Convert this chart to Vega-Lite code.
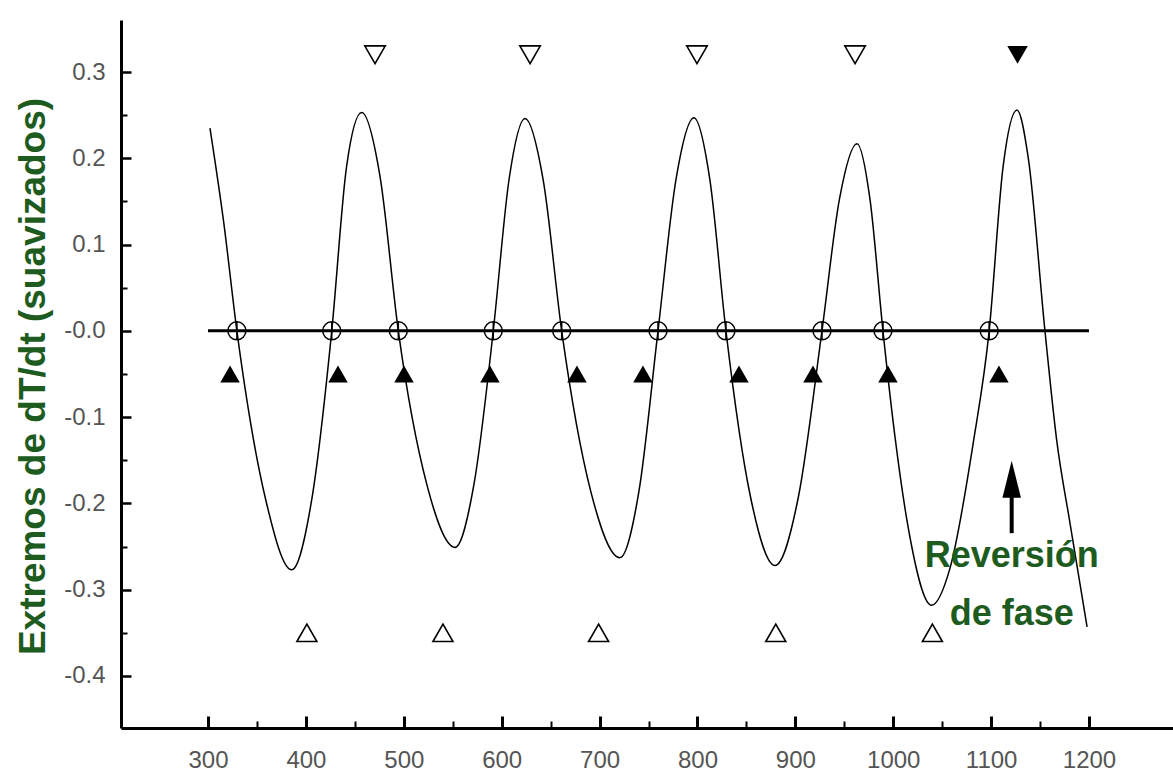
{
  "$schema": "https://vega.github.io/schema/vega-lite/v6.json",
  "width": 1052,
  "height": 708,
  "autosize": {"type": "none"},
  "padding": {"left": 121, "top": 20, "right": 0, "bottom": 43},
  "background": "white",
  "config": {"view": {"stroke": null}},
  "datasets": {
    "curve": [
      {"x": 302, "y": 0.235}, {"x": 316, "y": 0.126}, {"x": 329.5, "y": 0},
      {"x": 359, "y": -0.196}, {"x": 385.5, "y": -0.277}, {"x": 405.9, "y": -0.196}, {"x": 426.4, "y": 0},
      {"x": 441.5, "y": 0.19}, {"x": 457.0, "y": 0.253}, {"x": 475.7, "y": 0.179}, {"x": 494.4, "y": 0},
      {"x": 523.3, "y": -0.177}, {"x": 552.3, "y": -0.251}, {"x": 571.8, "y": -0.177}, {"x": 591.4, "y": 0},
      {"x": 607.6, "y": 0.176}, {"x": 623.8, "y": 0.246}, {"x": 642.5, "y": 0.174}, {"x": 661.3, "y": 0},
      {"x": 691, "y": -0.186}, {"x": 720.8, "y": -0.263}, {"x": 740.2, "y": -0.186}, {"x": 759.7, "y": 0},
      {"x": 778, "y": 0.175}, {"x": 796.4, "y": 0.247}, {"x": 812.7, "y": 0.175}, {"x": 829.1, "y": 0},
      {"x": 854.1, "y": -0.192}, {"x": 879.2, "y": -0.272}, {"x": 903.2, "y": -0.192}, {"x": 927.2, "y": 0},
      {"x": 945.1, "y": 0.153}, {"x": 963, "y": 0.217}, {"x": 976.2, "y": 0.153}, {"x": 989.5, "y": 0},
      {"x": 1001.7, "y": -0.122}, {"x": 1015.3, "y": -0.228}, {"x": 1039.2, "y": -0.318},
      {"x": 1058, "y": -0.275}, {"x": 1081.7, "y": -0.13}, {"x": 1098, "y": 0},
      {"x": 1112.2, "y": 0.19}, {"x": 1126.4, "y": 0.256}, {"x": 1138, "y": 0.2}, {"x": 1155, "y": 0},
      {"x": 1166.9, "y": -0.126}, {"x": 1180.6, "y": -0.223}, {"x": 1198, "y": -0.343}
    ],
    "zeroline": [{"x": 300, "x2": 1200, "y": 0}],
    "crossings": [
      {"x": 329.5, "y": 0}, {"x": 426.4, "y": 0}, {"x": 494.4, "y": 0}, {"x": 591.4, "y": 0}, {"x": 661.3, "y": 0},
      {"x": 759.7, "y": 0}, {"x": 829.1, "y": 0}, {"x": 927.2, "y": 0}, {"x": 989.5, "y": 0}, {"x": 1098, "y": 0}
    ],
    "filledUp": [
      {"x": 322.5, "y": -0.05}, {"x": 432.8, "y": -0.05}, {"x": 500.2, "y": -0.05}, {"x": 588.0, "y": -0.05}, {"x": 676.9, "y": -0.05},
      {"x": 744.3, "y": -0.05}, {"x": 842.4, "y": -0.05}, {"x": 918.0, "y": -0.05}, {"x": 994.6, "y": -0.05}, {"x": 1108.0, "y": -0.05}
    ],
    "openUp": [
      {"x": 401, "y": -0.35}, {"x": 540, "y": -0.35}, {"x": 699, "y": -0.35}, {"x": 880, "y": -0.35}, {"x": 1040, "y": -0.35}
    ],
    "openDown": [
      {"x": 470.6, "y": 0.32}, {"x": 629, "y": 0.32}, {"x": 799.5, "y": 0.32}, {"x": 961, "y": 0.32}
    ],
    "filledDown": [{"x": 1127, "y": 0.32}],
    "arrowShaft": [{"x": 1121, "y": -0.2345, "y2": -0.19}],
    "arrowHead": [{"x": 1121, "y": -0.1935}],
    "notes": [
      {"x": 1121, "y": -0.274, "label": "Reversión"},
      {"x": 1121, "y": -0.341, "label": "de fase"}
    ]
  },
  "encoding": {
    "x": {
      "field": "x", "type": "quantitative",
      "scale": {"domain": [211.1, 1285.8], "nice": false, "zero": false},
      "axis": {
        "title": null,
        "grid": false,
        "values": [300, 350, 400, 450, 500, 550, 600, 650, 700, 750, 800, 850, 900, 950, 1000, 1050, 1100, 1150, 1200],
        "labelExpr": "datum.value % 100 === 0 ? '' + datum.value : ''",
        "labelFont": "Liberation Sans",
        "labelFontSize": 24,
        "labelColor": "#555555",
        "labelPadding": 32,
        "labelFlush": false,
        "labelOverlap": false,
        "tickColor": "black",
        "tickSize": {"condition": {"test": "datum.value % 100 !== 0", "value": -7}, "value": -12},
        "tickWidth": {"condition": {"test": "datum.value % 100 !== 0", "value": 2}, "value": 3},
        "domainColor": "black",
        "domainWidth": 3
      }
    },
    "y": {
      "field": "y", "type": "quantitative",
      "scale": {"domain": [-0.4603, 0.3603], "nice": false, "zero": false},
      "axis": {
        "title": "Extremos de dT/dt (suavizados)",
        "titleFont": "Liberation Sans",
        "titleFontWeight": "bold",
        "titleFontSize": 37,
        "titleColor": "#1e5b1e",
        "titleBaseline": "alphabetic",
        "titleAlign": "center",
        "titleX": -77,
        "titleY": 356,
        "grid": false,
        "values": [-0.4, -0.35, -0.3, -0.25, -0.2, -0.15, -0.1, -0.05, 0, 0.05, 0.1, 0.15, 0.2, 0.25, 0.3],
        "labelExpr": "abs(round(datum.value * 100)) % 10 !== 0 ? '' : (datum.value <= 0.001 ? '-' : '') + format(abs(datum.value), '.1f')",
        "labelFont": "Liberation Sans",
        "labelFontSize": 24,
        "labelColor": "#555555",
        "labelPadding": 26,
        "labelOverlap": false,
        "labelFlush": false,
        "tickColor": "black",
        "tickSize": {"condition": {"test": "abs(round(datum.value * 100)) % 10 !== 0", "value": -6}, "value": -10},
        "tickWidth": {"condition": {"test": "abs(round(datum.value * 100)) % 10 !== 0", "value": 2}, "value": 2.5},
        "domainColor": "black",
        "domainWidth": 3
      }
    }
  },
  "layer": [
    {
      "data": {"name": "zeroline"},
      "mark": {"type": "rule", "color": "black", "strokeWidth": 3},
      "encoding": {"x2": {"field": "x2"}}
    },
    {
      "data": {"name": "curve"},
      "mark": {"type": "line", "color": "black", "strokeWidth": 1.5, "interpolate": "monotone"}
    },
    {
      "data": {"name": "crossings"},
      "mark": {"type": "point", "shape": "M-1,0A1,1,0,1,1,1,0A1,1,0,1,1,-1,0ZM0,-1L0,1M-1,0L1,0", "filled": false, "color": "black", "strokeWidth": 1.5, "size": 324, "opacity": 1}
    },
    {
      "data": {"name": "filledUp"},
      "mark": {"type": "point", "shape": "triangle-up", "filled": true, "color": "black", "size": 380, "opacity": 1}
    },
    {
      "data": {"name": "openUp"},
      "mark": {"type": "point", "shape": "triangle-up", "filled": false, "color": "black", "strokeWidth": 1.6, "size": 400, "opacity": 1}
    },
    {
      "data": {"name": "openDown"},
      "mark": {"type": "point", "shape": "triangle-down", "filled": false, "color": "black", "strokeWidth": 1.6, "size": 420, "opacity": 1}
    },
    {
      "data": {"name": "filledDown"},
      "mark": {"type": "point", "shape": "triangle-down", "filled": true, "color": "black", "size": 420, "opacity": 1}
    },
    {
      "data": {"name": "arrowShaft"},
      "mark": {"type": "rule", "color": "black", "strokeWidth": 4},
      "encoding": {"y2": {"field": "y2"}}
    },
    {
      "data": {"name": "arrowHead"},
      "mark": {"type": "point", "shape": "M0,-1L0.25,0L-0.25,0Z", "filled": true, "color": "black", "size": 5476, "opacity": 1}
    },
    {
      "data": {"name": "notes"},
      "mark": {"type": "text", "font": "Liberation Sans", "fontWeight": "bold", "fontSize": 36, "color": "#1e5b1e", "align": "center", "baseline": "alphabetic"},
      "encoding": {"text": {"field": "label"}}
    }
  ]
}
